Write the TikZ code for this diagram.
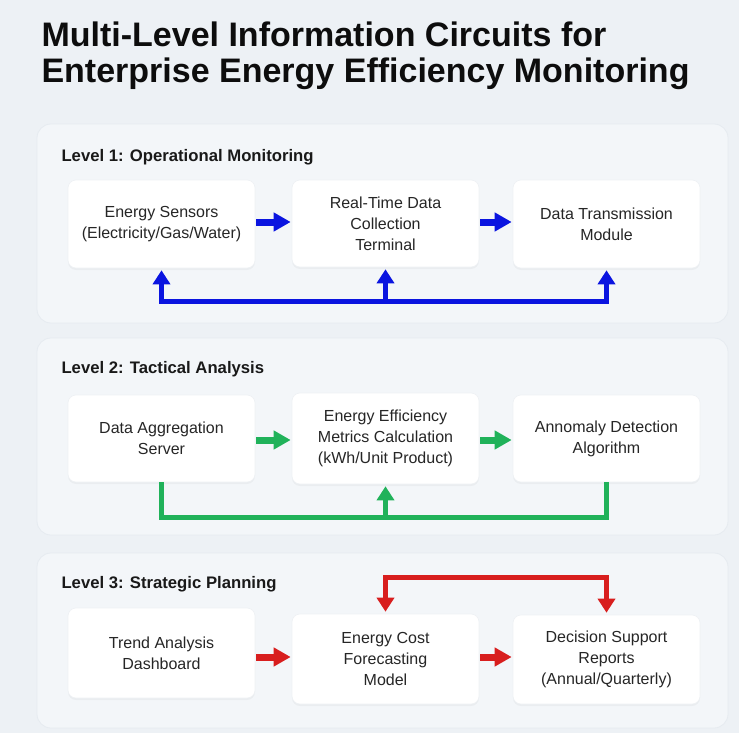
\documentclass[tikz,border=0pt]{standalone}
\usepackage{fontspec}
\setmainfont{Liberation Sans}
\usetikzlibrary{arrows.meta,shadows}
\definecolor{bgc}{HTML}{EDF1F5}
\definecolor{panelc}{HTML}{F3F6F9}
\definecolor{paneledge}{HTML}{E6EBF0}
\definecolor{boxedge}{HTML}{EEF1F4}
\definecolor{bluec}{HTML}{0A14E0}
\definecolor{greenc}{HTML}{20B25A}
\definecolor{redc}{HTML}{D81E1E}
\definecolor{txt}{HTML}{262626}
\tikzset{
  panel/.style={fill=panelc, draw=paneledge, line width=0.8pt, rounded corners=14pt},
  box/.style={fill=white, draw=boxedge, line width=0.6pt, rounded corners=8pt, minimum width=187pt, minimum height=88pt,
    align=center, text=txt, font=\fontsize{16}{21}\selectfont,
    drop shadow={shadow xshift=0pt, shadow yshift=-2pt, fill=black, opacity=0.035}},
  lvl/.style={anchor=base west, font=\fontsize{16.7}{20}\selectfont\bfseries, text=black!90},
  ttl/.style={anchor=base west, font=\fontsize{34}{38}\selectfont\bfseries, text=black!95},
  flow/.style={line width=7pt, -{Triangle[length=17pt,width=18pt]}},
  fb/.style={line width=5pt, line join=miter},
  tip/.style={-{Triangle[length=14pt,width=17pt]}},
  tips/.style={{Triangle[length=14pt,width=17pt]}-{Triangle[length=14pt,width=17pt]}},
}
\begin{document}
\begin{tikzpicture}[x=1pt,y=-1pt]
\useasboundingbox (0,0) rectangle (739,733);
\fill[bgc] (0,0) rectangle (739,733);
% title
\node[ttl] (title1) at (38,47) {Multi-Level Information Circuits for};
\node[ttl] (title2) at (38,83) {Enterprise Energy Efficiency Monitoring};
% panels
\draw[panel] (37,124) rectangle (728,323);
\draw[panel] (37,338) rectangle (728,535);
\draw[panel] (37,553) rectangle (728,728);
% level 1
\node[lvl] (l1) at (58,161) {Level 1: Operational Monitoring};
\node[box] (a1) at (161.5,224) {Energy Sensors\\(Electricity/Gas/Water)};
\node[box, minimum height=87pt] (a2) at (385.5,223.5) {Real-Time Data\\Collection\\Terminal};
\node[box] (a3) at (606.5,224) {Data Transmission\\Module};
\draw[flow, bluec] ([xshift=1pt]a1.east |- 0,222) -- ([xshift=-1pt]a2.west |- 0,222);
\draw[flow, bluec] ([xshift=1pt]a2.east |- 0,222) -- ([xshift=-1pt]a3.west |- 0,222);
\coordinate (f1a) at (a1.south |- 0,301);
\coordinate (f1b) at (a2.south |- 0,301);
\coordinate (f1c) at (a3.south |- 0,301);
\draw[fb, bluec, tips, shorten <=2pt, shorten >=2pt] (a1.south) -- (f1a) -- (f1c) -- (a3.south);
\draw[fb, bluec, tip, shorten >=2pt] (f1b) -- (a2.south);
% level 2
\node[lvl] (l2) at (58,373) {Level 2: Tactical Analysis};
\node[box, minimum height=87pt] (b1) at (161.5,438.5) {Data Aggregation\\Server};
\node[box, minimum height=91pt] (b2) at (385.5,438.5) {Energy Efficiency\\Metrics Calculation\\(kWh/Unit Product)};
\node[box, minimum height=87pt] (b3) at (606.5,438.5) {Annomaly Detection\\Algorithm};
\draw[flow, greenc] ([xshift=1pt]b1.east |- 0,440) -- ([xshift=-1pt]b2.west |- 0,440);
\draw[flow, greenc] ([xshift=1pt]b2.east |- 0,440) -- ([xshift=-1pt]b3.west |- 0,440);
\coordinate (f2a) at (b1.south |- 0,517);
\coordinate (f2b) at (b2.south |- 0,517);
\coordinate (f2c) at (b3.south |- 0,517);
\draw[fb, greenc] (b1.south) -- (f2a) -- (f2c) -- (b3.south);
\draw[fb, greenc, tip, shorten >=2pt] (f2b) -- (b2.south);
% level 3
\node[lvl] (l3) at (58,588) {Level 3: Strategic Planning};
\node[box, minimum height=90pt] (c1) at (161.5,653) {Trend Analysis\\Dashboard};
\node[box, minimum height=90pt] (c2) at (385.5,659) {Energy Cost\\Forecasting\\Model};
\node[box, minimum height=89pt] (c3) at (606.5,659.5) {Decision Support\\Reports\\(Annual/Quarterly)};
\draw[flow, redc] ([xshift=1pt]c1.east |- 0,657) -- ([xshift=-1pt]c2.west |- 0,657);
\draw[flow, redc] ([xshift=1pt]c2.east |- 0,657) -- ([xshift=-1pt]c3.west |- 0,657);
\coordinate (f3b) at (c2.north |- 0,577);
\coordinate (f3c) at (c3.north |- 0,577);
\draw[fb, redc, tips, shorten <=2pt, shorten >=2pt] (c2.north) -- (f3b) -- (f3c) -- (c3.north);
\end{tikzpicture}
\end{document}
